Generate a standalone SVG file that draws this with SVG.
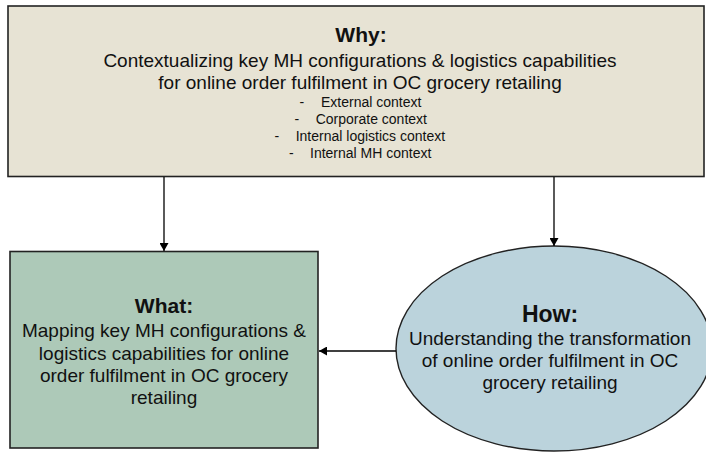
<svg xmlns="http://www.w3.org/2000/svg" width="706" height="453" viewBox="0 0 706 453">
<defs>
<marker id="ah" viewBox="0 0 8 9" refX="8" refY="4.5" markerWidth="8" markerHeight="9" markerUnits="userSpaceOnUse" orient="auto">
<path d="M0,0 L8,4.5 L0,9 Z" fill="#000"/>
</marker>
</defs>
<style>
text{font-family:"Liberation Sans",Arial,sans-serif;fill:#111;}
.t{font-size:21px;font-weight:bold;text-anchor:middle;}
.b{font-size:19px;text-anchor:middle;}
.s{font-size:14px;}
.c{stroke:#000;stroke-width:1.3;fill:none;marker-end:url(#ah);}
</style>
<rect width="706" height="453" fill="#fff"/>
<g id="why">
<rect x="8" y="6" width="696" height="170.5" fill="#E7E3D4" stroke="#222" stroke-width="1.6"/>
<text class="t" x="361" y="42">Why:</text>
<text class="b" x="360" y="66.5">Contextualizing key MH configurations &amp; logistics capabilities</text>
<text class="b" x="360" y="88.5">for online order fulfilment in OC grocery retailing</text>
<text class="s"><tspan x="299.5" y="107">-</tspan><tspan x="321" y="107">External context</tspan></text>
<text class="s"><tspan x="294.5" y="124">-</tspan><tspan x="315.7" y="124">Corporate context</tspan></text>
<text class="s"><tspan x="274.5" y="141">-</tspan><tspan x="295.7" y="141">Internal logistics context</tspan></text>
<text class="s"><tspan x="289" y="158">-</tspan><tspan x="310" y="158">Internal MH context</tspan></text>
</g>
<g id="what">
<rect x="10" y="251.5" width="308" height="196.5" fill="#ADC9B8" stroke="#222" stroke-width="1.6"/>
<text class="t" x="164" y="313">What:</text>
<text class="b" x="164" y="337">Mapping key MH configurations &amp;</text>
<text class="b" x="164" y="359.5">logistics capabilities for online</text>
<text class="b" x="164" y="382">order fulfilment in OC grocery</text>
<text class="b" x="164" y="404">retailing</text>
</g>
<g id="how">
<ellipse cx="554" cy="348.5" rx="158" ry="102.5" fill="#BBD3DC" stroke="#222" stroke-width="1.4"/>
<text class="t" x="550" y="322" style="font-size:23px">How:</text>
<text class="b" x="550" y="345">Understanding the transformation</text>
<text class="b" x="550" y="367">of online order fulfilment in OC</text>
<text class="b" x="550" y="389">grocery retailing</text>
</g>
<g id="connectors">
<line class="c" x1="164" y1="177" x2="164" y2="251"/>
<line class="c" x1="554" y1="177" x2="554" y2="246"/>
<line class="c" x1="396" y1="351" x2="319" y2="351"/>
</g>
</svg>
